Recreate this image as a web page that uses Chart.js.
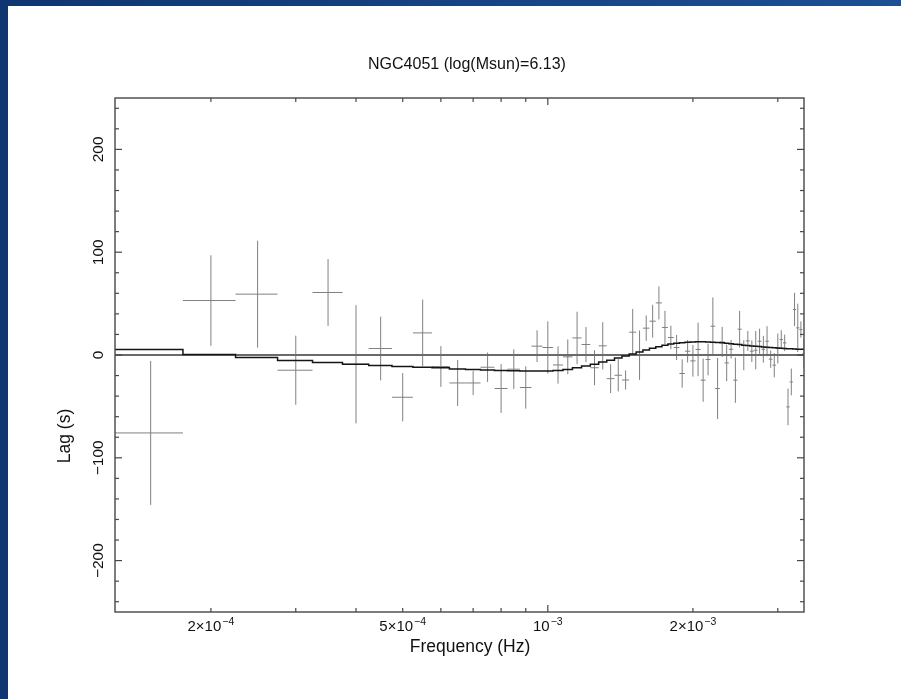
<!DOCTYPE html>
<html>
<head>
<meta charset="utf-8">
<script src="https://cdn.jsdelivr.net/npm/chart.js@4.4.1/dist/chart.umd.min.js"></script>
<style>
  html, body { margin: 0; padding: 0; width: 901px; height: 699px; overflow: hidden;
    background: linear-gradient(to right, #0e3670, #1d4f94); }
  #wrap { position: absolute; left: 8px; top: 6px; width: 893px; height: 693px; background: #fff; }
</style>
</head>
<body>
<div id="wrap"><canvas id="lagChart" width="893" height="693"></canvas></div>
<script>
// frequency bins (Hz), lag (s), 1-sigma error and model
const freq = [
    1.50e-4, 2.00e-4, 2.50e-4, 3.00e-4, 3.50e-4, 4.00e-4, 4.50e-4, 5.00e-4, 5.50e-4, 6.00e-4,
    6.50e-4, 7.00e-4, 7.50e-4, 8.00e-4, 8.50e-4, 9.00e-4, 9.50e-4, 1.00e-3, 1.05e-3, 1.10e-3,
    1.15e-3, 1.20e-3, 1.25e-3, 1.30e-3, 1.35e-3, 1.40e-3, 1.45e-3, 1.50e-3, 1.55e-3, 1.60e-3,
    1.65e-3, 1.70e-3, 1.75e-3, 1.80e-3, 1.85e-3, 1.90e-3, 1.95e-3, 2.00e-3, 2.05e-3, 2.10e-3,
    2.15e-3, 2.20e-3, 2.25e-3, 2.30e-3, 2.35e-3, 2.40e-3, 2.45e-3, 2.50e-3, 2.55e-3, 2.60e-3,
    2.65e-3, 2.70e-3, 2.75e-3, 2.80e-3, 2.85e-3, 2.90e-3, 2.95e-3, 3.00e-3, 3.05e-3, 3.10e-3,
    3.15e-3, 3.20e-3, 3.25e-3, 3.30e-3, 3.35e-3, 3.40e-3
];
const lag = [
    -75.8, 53.0, 59.2, -14.8, 60.8, -9.0, 6.3, -41.1, 21.5, -11.2,
    -27.2, -27.2, -11.9, -32.6, -13.8, -31.6, 8.6, 7.3, -9.7, -1.8,
    16.6, 10.2, -12.4, 8.9, -23.0, -19.7, -24.3, 22.2, -0.2, 26.1,
    32.9, 50.7, 26.8, 17.0, 7.3, -18.0, 3.7, -5.7, 5.4, -24.5,
    -4.4, 28.0, -32.6, 12.7, -7.7, 5.6, -24.5, 25.1, -0.2, 13.7,
    3.7, 4.7, 13.4, 5.6, 13.4, -4.1, -9.9, 6.3, 15.1, 11.8,
    -50.5, -26.2, 44.3, 26.4, 24.8, 1.5
];
const lagErr = [
    70, 44, 52, 33.6, 32.5, 57.5, 31, 23.5, 32.4, 19.8,
    22.4, 11.8, 14.3, 23.8, 19.3, 20.6, 15.4, 25.4, 18.1, 16.9,
    25.5, 17, 17, 23, 14, 15.7, 9.3, 22.6, 24, 12.3,
    16, 16, 16.2, 11.4, 12.2, 13.8, 11, 15.4, 26, 21,
    15.4, 28, 29.7, 14.6, 17.8, 9, 22, 17.8, 14.6, 9.7,
    10.5, 18.6, 12.2, 13, 14.6, 8.4, 11.8, 14.6, 9, 8,
    17.8, 13, 16.2, 23.5, 8, 13.8
];
const modelLag = [
    5.4, 0.5, -2.4, -5.4, -7.3, -9.0, -10.3, -11.2, -11.9, -12.5,
    -13.5, -14.0, -14.6, -15.0, -15.3, -15.5, -15.6, -15.5, -15.0, -14.0,
    -12.5, -10.8, -9.0, -6.8, -5.0, -3.0, -1.0, 1.0, 3.0, 4.8,
    6.5, 8.0, 9.5, 10.6, 11.4, 12.0, 12.4, 12.7, 12.8, 12.8,
    12.7, 12.5, 12.2, 11.8, 11.4, 11.0, 10.5, 10.1, 9.6, 9.2,
    8.8, 8.5, 8.2, 7.9, 7.6, 7.3, 7.1, 6.8, 6.6, 6.4,
    6.2, 6.0, 5.9, 5.7, 5.6, 5.5
];
const binHalfWidth = 2.5e-5;

const xMin = 1.265e-4, xMax = 3.4e-3;
const yMin = -250, yMax = 250;
const xTickVals = [2e-4, 5e-4, 1e-3, 2e-3];
const xTickBase = ['2×10', '5×10', '10', '2×10'];
const xTickExp = ['−4', '−4', '−3', '−3'];
const xMinorTicks = [2e-4, 3e-4, 4e-4, 5e-4, 6e-4, 7e-4, 8e-4, 9e-4, 2e-3, 3e-3];
const xMajorTicks = [1e-3];
const yTickVals = [-200, -100, 0, 100, 200];
const yTickLabels = ['−200', '−100', '0', '100', '200'];
const yMinorTicks = [-240, -220, -180, -160, -140, -120, -80, -60, -40, -20,
                     20, 40, 60, 80, 120, 140, 160, 180, 220, 240];

const FONT = '"Liberation Sans", Arial, sans-serif';

// error bar segments, split with null so each cross is separate
let hBars = [], vBars = [], modelSteps = [];
freq.forEach((f, i) => {
    hBars.push({x: f - binHalfWidth, y: lag[i]}, {x: f + binHalfWidth, y: lag[i]}, {x: f, y: null});
    vBars.push({x: f, y: lag[i] - lagErr[i]}, {x: f, y: lag[i] + lagErr[i]}, {x: f, y: null});
    modelSteps.push({x: f - binHalfWidth, y: modelLag[i]});
});
modelSteps.push({x: freq[freq.length - 1] + binHalfWidth, y: modelLag[modelLag.length - 1]});

// frame with inward ticks, x labels with superscripts, and the free-standing texts
const frameAndText = {
    id: 'frameAndText',
    afterDraw(chart) {
        const {ctx, chartArea: a, scales: {x, y}} = chart;
        ctx.save();
        ctx.strokeStyle = '#474747';
        ctx.lineWidth = 1.4;
        ctx.strokeRect(a.left, a.top, a.right - a.left, a.bottom - a.top);
        function seg(x1, y1, x2, y2) {
            ctx.beginPath(); ctx.moveTo(x1, y1); ctx.lineTo(x2, y2); ctx.stroke();
        }
        ctx.lineWidth = 1.2;
        xMinorTicks.forEach(v => { let p = x.getPixelForValue(v); seg(p, a.bottom, p, a.bottom - 4); seg(p, a.top, p, a.top + 4); });
        xMajorTicks.forEach(v => { let p = x.getPixelForValue(v); seg(p, a.bottom, p, a.bottom - 7); seg(p, a.top, p, a.top + 7); });
        yMinorTicks.forEach(v => { let p = y.getPixelForValue(v); seg(a.left, p, a.left + 4, p); seg(a.right, p, a.right - 4, p); });
        yTickVals.forEach(v => { let p = y.getPixelForValue(v); seg(a.left, p, a.left + 7, p); seg(a.right, p, a.right - 7, p); });

        ctx.fillStyle = '#111';
        // tick labels on the log axis: mantissa and raised exponent
        ctx.textAlign = 'left';
        ctx.textBaseline = 'alphabetic';
        xTickVals.forEach((v, i) => {
            let p = x.getPixelForValue(v);
            ctx.font = '15px ' + FONT;
            let wb = ctx.measureText(xTickBase[i]).width;
            ctx.font = '10.5px ' + FONT;
            let we = ctx.measureText(xTickExp[i]).width;
            let x0 = p - (wb + we + 1) / 2;
            ctx.font = '15px ' + FONT;
            ctx.fillText(xTickBase[i], x0, a.bottom + 19);
            ctx.font = '10.5px ' + FONT;
            ctx.fillText(xTickExp[i], x0 + wb + 1, a.bottom + 13);
        });

        ctx.textAlign = 'center';
        ctx.textBaseline = 'middle';
        ctx.font = '16px ' + FONT;
        ctx.fillText('NGC4051 (log(Msun)=6.13)', 459, 59);
        ctx.font = '17.5px ' + FONT;
        ctx.fillText('Frequency (Hz)', 462, 641);
        ctx.translate(57, 430);
        ctx.rotate(-Math.PI / 2);
        ctx.fillText('Lag (s)', 0, 0);
        ctx.restore();
    }
};

new Chart(document.getElementById('lagChart'), {
    type: 'line',
    data: {
        datasets: [
            {
                label: 'model',
                data: modelSteps,
                stepped: true,
                borderColor: '#151515',
                borderWidth: 1.5,
                pointRadius: 0
            },
            {
                label: 'zero',
                data: [{x: xMin, y: 0}, {x: xMax, y: 0}],
                borderColor: '#6a6a6a',
                borderWidth: 2,
                pointRadius: 0
            },
            {
                label: 'freq error',
                data: hBars,
                borderColor: '#808080',
                borderWidth: 1,
                pointRadius: 0
            },
            {
                label: 'lag error',
                data: vBars,
                borderColor: '#808080',
                borderWidth: 1,
                pointRadius: 0
            }
        ]
    },
    options: {
        responsive: false,
        animation: false,
        devicePixelRatio: 1,
        layout: { padding: { left: 0, right: 97, top: 92, bottom: 0 } },
        plugins: { legend: { display: false }, tooltip: { enabled: false }, title: { display: false } },
        scales: {
            x: {
                type: 'logarithmic',
                min: xMin,
                max: xMax,
                grid: { display: false, drawTicks: false },
                border: { display: false },
                afterBuildTicks: s => { s.ticks = xTickVals.map(v => ({value: v})); },
                afterFit: s => { s.height = 87; },
                ticks: { display: false }
            },
            y: {
                min: yMin,
                max: yMax,
                grid: { display: false, drawTicks: false },
                border: { display: false },
                afterBuildTicks: s => { s.ticks = yTickVals.map(v => ({value: v})); },
                afterFit: s => { s.width = 107; },
                ticks: {
                    autoSkip: false,
                    minRotation: 90,
                    maxRotation: 90,
                    crossAlign: 'center',
                    padding: -1,
                    color: '#111',
                    font: { family: FONT, size: 15.5 },
                    callback: v => yTickLabels[yTickVals.indexOf(v)]
                }
            }
        }
    },
    plugins: [frameAndText]
});
</script>
</body>
</html>
